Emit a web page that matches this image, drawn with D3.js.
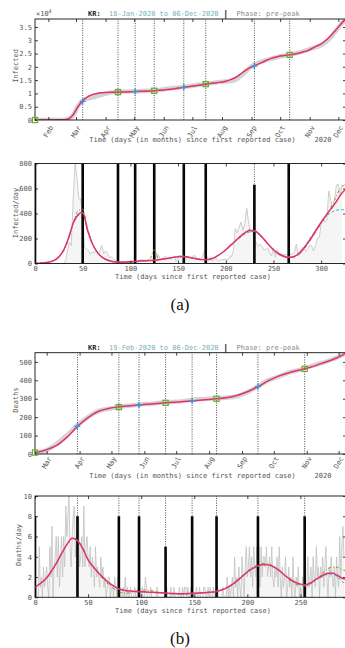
<!DOCTYPE html>
<html>
<head>
<meta charset="utf-8">
<script src="https://cdn.jsdelivr.net/npm/d3@7"></script>
<style>
  body { margin: 0; background: #fff; }
  svg { display: block; }
</style>
</head>
<body>
<svg id="fig" width="345" height="648"></svg>
<script>
// ---------- (a) infections, day 0 = 18-Jan-2020 ----------
const infStart = new Date(2020, 0, 18);
const infFitDays = d3.range(0, 321, 5).concat([325]);
const infCumFit = [0, 2, 5, 10, 20, 50, 120, 400, 2000, 5000, 7200, 8700, 9500, 10000, 10250, 10350,
  10420, 10480, 10530, 10580, 10640, 10700, 10780, 10850, 10930, 11020, 11150, 11300, 11500, 11700,
  12000, 12250, 12500, 12750, 13000, 13300, 13550, 13800, 14000, 14250, 14600, 15200, 16000, 17200,
  18500, 19600, 20400, 21200, 22000, 22800, 23400, 23900, 24200, 24450, 24700, 25000, 25500, 26000,
  26800, 27800, 28600, 30000, 31700, 33700, 35800, 37800];
const infCumRaw = [1, 2, 4, 15, 24, 28, 30, 433, 1766, 5186, 7313, 7979, 8413, 8961, 9478, 9976,
  10331, 10512, 10635, 10694, 10738, 10780, 10810, 10936, 11050, 11142, 11265, 11541, 11776, 12003,
  12155, 12373, 12602, 12904, 13137, 13373, 13612, 13879, 14150, 14305, 14456, 14626, 15039, 16346,
  17945, 19699, 20842, 21588, 22285, 22783, 23341, 23699, 24164, 24476, 24805, 25199, 25698, 26271,
  26925, 27427, 28133, 29311, 31004, 33375, 35703, 37546];
const infDailyFit = [1, 3, 6, 12, 25, 53, 107, 200, 322, 390, 410, 268, 160, 93, 53, 30, 18, 12, 11, 12,
  14, 17, 20, 22, 24, 26, 30, 36, 42, 49, 55, 57, 52, 44, 36, 31, 30, 38, 55, 80,
  110, 145, 180, 215, 245, 265, 262, 235, 195, 150, 110, 80, 60, 50, 52, 70, 105, 155, 210, 270,
  330, 385, 435, 485, 545, 590];
const infDailyCyan = [1, 3, 6, 12, 25, 52, 105, 195, 315, 380, 400, 270, 165, 95, 55, 32, 19, 13, 11, 12,
  14, 17, 20, 22, 24, 27, 31, 37, 43, 48, 51, 53, 50, 43, 36, 31, 31, 39, 56, 80,
  108, 142, 175, 208, 237, 252, 255, 232, 194, 150, 112, 82, 62, 52, 54, 73, 110, 162, 218, 275,
  330, 375, 405, 425, 430, 430];
const infDailyOlive = [1, 3, 6, 12, 24, 50, 100, 190, 320, 420, 435, 285, 165, 90, 50, 28, 16, 10, 9, 10,
  13, 16, 19, 22, 30, 110, 32, 36, 42, 50, 58, 60, 54, 45, 37, 32, 31, 38, 54, 78,
  110, 146, 182, 218, 250, 270, 268, 238, 196, 148, 106, 76, 56, 46, 48, 64, 96, 145, 200, 262,
  318, 375, 445, 525, 600, 630];
const infRawDays = d3.range(0, 323, 2);
const infDailyRaw = [1, 0, 0, 0, 1, 0, 3, 2, 1, 0, 1, 0, 0, 0, 0, 1,
  20, 100, 170, 144, 505, 813, 686, 516, 518, 367, 131, 114, 107, 74, 93, 87, 98, 76, 104, 146,
  78, 101, 81, 47, 53, 39, 27, 25, 18, 8, 11, 14, 10, 9, 6, 10, 4, 3, 2, 34,
  27, 29, 15, 19, 20, 23, 16, 40, 79, 58, 27, 38, 57, 49, 37, 34, 48, 59, 17, 48,
  46, 51, 62, 42, 28, 42, 50, 63, 61, 35, 44, 39, 60, 113, 58, 28, 48, 18, 36, 43,
  20, 28, 31, 30, 34, 28, 54, 56, 103, 279, 246, 288, 332, 266, 320, 441, 323, 248, 267, 198,
  167, 136, 155, 136, 109, 113, 126, 82, 61, 125, 50, 114, 77, 75, 73, 69, 72, 98, 73, 76,
  89, 155, 61, 88, 125, 127, 97, 118, 145, 143, 100, 143, 202, 208, 313, 363, 330, 349, 581, 504,
  438, 511, 629, 631, 540, 631];
const infChangeDays = [50, 87, 105, 125, 156, 179, 230, 267];
const infStemDays = [0, 50, 87, 105, 125, 156, 179, 230, 266];
const infStemTop = [800, 800, 800, 800, 800, 800, 800, 630, 800];
const infSquareDays = [0, 87, 125, 179, 267];
const infSquareVals = [0, 10500, 11000, 13500, 24500];
const infCrossDays = [50, 105, 156, 230];
const infCrossVals = [7000, 10700, 12300, 20300];

// ---------- (b) deaths, day 0 = 19-Feb-2020 ----------
const dthStart = new Date(2020, 1, 19);
const dthCumDays = d3.range(0, 291, 10).concat([292]);
const dthCumFit = [8, 22, 45, 90, 150, 198, 232, 248, 256, 262, 267, 272, 277, 281, 285, 289, 294, 300,
  306, 318, 338, 366, 398, 424, 443, 457, 472, 492, 512, 538, 545];
const dthCumRaw = [2, 17, 54, 102, 158, 200, 234, 246, 256, 263, 269, 273, 280, 282, 287, 296, 299, 302,
  306, 313, 336, 367, 401, 421, 444, 458, 477, 494, 513, 540, 549];
const dthFitDays = d3.range(0, 291, 5).concat([292]);
const dthDailyFit = [1.0, 1.35, 1.8, 2.5, 3.35, 4.3, 5.2, 5.82, 5.6, 4.8, 3.7, 3.0, 2.4, 1.85, 1.4, 1.05,
  0.8, 0.68, 0.62, 0.58, 0.55, 0.52, 0.5, 0.47, 0.44, 0.4, 0.37, 0.35, 0.35, 0.37, 0.4, 0.43, 0.46,
  0.5, 0.55, 0.7, 0.9, 1.2, 1.6, 2.05, 2.5, 2.85, 3.1, 3.25, 3.2, 3.0, 2.65, 2.2, 1.8, 1.5, 1.3,
  1.25, 1.45, 1.8, 2.1, 2.35, 2.4, 2.15, 1.85, 1.78];
const dthDailyCyan = [1.0, 1.35, 1.8, 2.5, 3.35, 4.3, 5.2, 5.8, 5.6, 4.8, 3.7, 3.0, 2.4, 1.85, 1.4, 1.0,
  0.75, 0.65, 0.6, 0.56, 0.54, 0.5, 0.47, 0.44, 0.4, 0.36, 0.33, 0.31, 0.3, 0.32, 0.35, 0.4, 0.45,
  0.5, 0.55, 0.7, 0.9, 1.2, 1.6, 2.0, 2.45, 2.8, 3.05, 3.2, 3.15, 2.95, 2.6, 2.15, 1.75, 1.45, 1.25,
  1.2, 1.4, 1.75, 2.0, 2.25, 2.3, 2.0, 1.5, 1.38];
const dthDailyOlive = [1.0, 1.35, 1.8, 2.5, 3.35, 4.3, 5.2, 5.85, 5.65, 4.85, 3.7, 2.95, 2.3, 1.7, 1.2, 0.8,
  0.5, 0.4, 0.45, 0.6, 0.7, 0.72, 0.65, 0.5, 0.42, 0.38, 0.36, 0.35, 0.36, 0.38, 0.42, 0.45, 0.48,
  0.52, 0.57, 0.72, 0.92, 1.25, 1.65, 2.1, 2.6, 2.95, 3.2, 3.35, 3.3, 3.05, 2.65, 2.15, 1.7, 1.35,
  1.15, 1.1, 1.35, 1.75, 2.3, 2.75, 3.0, 2.95, 2.7, 2.64];
const dthDailyRaw = [0, 1, 0, 0, 5, 1, 2, 0, 3, 1, 2, 3, 1, 0, 5, 2, 7, 0, 3, 4,
  6, 2, 6, 1, 3, 6, 2, 6, 3, 9, 6, 8, 10, 5, 3, 6, 8, 9, 4, 6,
  5, 8, 3, 4, 6, 3, 9, 3, 5, 6, 4, 3, 5, 2, 4, 3, 1, 5, 2, 3,
  2, 1, 4, 2, 3, 1, 2, 0, 1, 2, 2, 0, 1, 1, 0, 2, 1, 0, 2, 1,
  1, 0, 0, 1, 0, 2, 0, 1, 0, 0, 1, 0, 0, 0, 1, 0, 0, 1, 0, 0,
  0, 1, 0, 0, 2, 1, 0, 0, 0, 1, 0, 0, 0, 0, 0, 1, 0, 0, 0, 0,
  0, 0, 0, 0, 1, 0, 0, 0, 1, 0, 0, 1, 0, 0, 0, 0, 1, 0, 0, 1,
  0, 1, 1, 0, 1, 0, 0, 1, 0, 0, 0, 0, 1, 0, 0, 1, 0, 0, 0, 1,
  1, 0, 0, 1, 0, 1, 0, 0, 1, 0, 0, 0, 1, 0, 0, 0, 0, 1, 0, 0,
  0, 2, 0, 1, 0, 1, 2, 0, 4, 1, 2, 0, 3, 1, 0, 4, 2, 0, 3, 5,
  2, 3, 5, 2, 4, 1, 5, 3, 2, 5, 3, 5, 1, 5, 2, 4, 4, 3, 5, 2,
  3, 4, 2, 5, 2, 1, 3, 2, 4, 1, 5, 2, 0, 3, 1, 2, 4, 0, 1, 3,
  1, 2, 0, 4, 1, 0, 2, 1, 3, 0, 1, 0, 2, 1, 3, 0, 1, 4, 1, 2,
  3, 0, 4, 2, 1, 5, 2, 3, 0, 3, 2, 4, 1, 3, 5, 2, 0, 3, 2, 4,
  2, 1, 3, 0, 4, 2, 1, 6, 2, 5, 7, 4];
const dthChangeDays = [40, 79, 98, 123, 148, 171, 210, 254];
const dthStemDays = [0, 40, 79, 98, 123, 148, 171, 210, 254];
const dthStemTop = [8, 8, 8, 8, 5, 8, 8, 8, 8];
const dthSquareDays = [0, 79, 123, 171, 254];
const dthSquareVals = [8, 255, 278, 300, 462];
const dthCrossDays = [40, 98, 148, 210];
const dthCrossVals = [150, 266, 288, 366];

// ---------- styling ----------
const MONO = 'DejaVu Sans Mono, monospace';
const C = {
  pink: '#e6306c', cyan: '#35b6c8', olive: '#8f8d22', raw: '#c2c2c2', band: '#cdcdcd',
  fill: '#f5f5f5', green: '#64ad2c', blue: '#2e9edb', tick: '#555', date: '#76b3b5'
};
const L = 35, R = 345;
const svg = d3.select('#fig');
let clipId = 0;

function panel(o) {
  const x = d3.scaleLinear().domain(o.xDomain).range([L, R]);
  const y = d3.scaleLinear().domain(o.yDomain).range([o.bottom, o.top]);
  const g = svg.append('g');
  const id = 'clip' + (clipId++);
  g.append('clipPath').attr('id', id).append('rect')
    .attr('x', L).attr('y', o.top).attr('width', R + 2 - L).attr('height', o.bottom - o.top);
  const plot = g.append('g').attr('clip-path', 'url(#' + id + ')');
  return { x, y, g, plot, o };
}

function axes(p, xTicks, xFmt, yTicks, yFmt) {
  const o = p.o;
  const ax = p.g.append('g');
  ax.append('g').attr('transform', 'translate(' + L + ',0)')
    .call(d3.axisLeft(p.y).tickValues(yTicks).tickSize(-3).tickPadding(3).tickFormat(yFmt));
  ax.append('g').attr('transform', 'translate(' + (R + 1) + ',0)')
    .call(d3.axisRight(p.y).tickValues(yTicks).tickSize(-3).tickFormat(''));
  const bottom = ax.append('g').attr('class', 'xb').attr('transform', 'translate(0,' + o.bottom + ')')
    .call(d3.axisBottom(p.x).tickValues(xTicks).tickSize(-3).tickPadding(3).tickFormat(xFmt));
  ax.append('g').attr('transform', 'translate(0,' + o.top + ')')
    .call(d3.axisTop(p.x).tickValues(xTicks).tickSize(-3).tickFormat(''));
  ax.selectAll('.domain').remove();
  ax.selectAll('.tick line').attr('stroke', '#111').attr('stroke-width', 0.8);
  ax.selectAll('text').attr('font-family', MONO).attr('font-size', 7).attr('fill', C.tick);
  // frame: left, top, bottom (right side falls just off the picture)
  p.g.append('rect').attr('x', L).attr('y', o.top).attr('width', R + 1 - L).attr('height', o.bottom - o.top)
    .attr('fill', 'none').attr('stroke', '#111').attr('stroke-width', 0.9);
  return bottom;
}

function monthLabels(bottom, dy) {
  bottom.selectAll('.tick text')
    .attr('y', 0).attr('dy', '0.35em').attr('text-anchor', 'middle')
    .attr('transform', 'translate(-0.5,' + dy + ') rotate(-60)');
}

function monthTicks(start, endDay) {
  const end = d3.timeDay.offset(start, endDay);
  return d3.timeMonth.range(d3.timeMonth.ceil(start), end).map(m => d3.timeDay.count(start, m));
}

function label(text, x, y, opts) {
  const t = svg.append('text').attr('x', x).attr('y', y).text(text)
    .attr('font-family', (opts && opts.family) || MONO)
    .attr('font-size', (opts && opts.size) || 7)
    .attr('fill', (opts && opts.fill) || C.tick);
  if (opts && opts.anchor) t.attr('text-anchor', opts.anchor);
  if (opts && opts.rotate) t.attr('transform', 'rotate(-90,' + x + ',' + y + ')');
  if (opts && opts.weight) t.attr('font-weight', opts.weight);
  return t;
}

function title(y, dates) {
  label('KR:', 88, y, { fill: '#222', weight: 'bold' });
  label(dates, 109, y, { fill: C.date });
  label('|', 223, y + 1, { fill: '#222', size: 9, weight: 'bold' });
  label('Phase: pre-peak', 236.5, y, { fill: '#8a8a8a' });
}

function vlines(p, days) {
  p.plot.selectAll(null).data(days).join('line')
    .attr('x1', d => p.x(d)).attr('x2', d => p.x(d))
    .attr('y1', p.o.bottom).attr('y2', p.o.top)
    .attr('stroke', '#222').attr('stroke-width', 0.8).attr('stroke-dasharray', '1,1.4');
}

function stems(p, days, tops) {
  p.plot.selectAll(null).data(days).join('line')
    .attr('x1', d => p.x(d)).attr('x2', d => p.x(d))
    .attr('y1', p.o.bottom).attr('y2', (d, i) => p.y(tops[i]))
    .attr('stroke', '#000').attr('stroke-width', 2.6);
}

function curve(p, days, vals, color, width, dash, smooth) {
  const line = d3.line().x((d, i) => p.x(days[i])).y(d => p.y(d))
    .curve(smooth ? d3.curveMonotoneX : d3.curveLinear);
  const path = p.plot.append('path').datum(vals).attr('d', line)
    .attr('fill', 'none').attr('stroke', color).attr('stroke-width', width)
    .attr('stroke-linejoin', 'round');
  if (dash) path.attr('stroke-dasharray', dash);
  return path;
}

function area(p, days, vals) {
  const a = d3.area().x((d, i) => p.x(days[i])).y0(p.o.bottom).y1(d => p.y(d));
  p.plot.append('path').datum(vals).attr('d', a).attr('fill', C.fill);
}

function markers(p, sqDays, sqVals, crDays, crVals) {
  p.g.selectAll(null).data(sqDays).join('rect')
    .attr('x', d => p.x(d) - 2.6).attr('y', (d, i) => p.y(sqVals[i]) - 2.6)
    .attr('width', 5.2).attr('height', 5.2)
    .attr('fill', 'none').attr('stroke', C.green).attr('stroke-width', 1.2);
  p.g.selectAll(null).data(crDays).join('path')
    .attr('transform', (d, i) => 'translate(' + p.x(d) + ',' + p.y(crVals[i]) + ')')
    .attr('d', 'M-3,0H3M0,-3V3')
    .attr('stroke', C.blue).attr('stroke-width', 1.3);
}

// ===== panel 1: cumulative infections =====
const p1 = panel({ top: 19, bottom: 120, xDomain: [0, 325], yDomain: [0, 38000] });
curve(p1, infFitDays, infCumRaw, C.band, 4.5, null, true).attr('opacity', 0.85);
vlines(p1, infChangeDays);
curve(p1, infFitDays, infCumFit, C.olive, 1, '3,2,1,2', true);
curve(p1, infFitDays, infCumFit, C.pink, 1.5, null, true);
const b1 = axes(p1, monthTicks(infStart, 325), d => d3.timeFormat('%b')(d3.timeDay.offset(infStart, d)),
  d3.range(0, 35001, 5000), d => d3.format('~g')(d / 1e4));
monthLabels(b1, 11.5);
markers(p1, infSquareDays, infSquareVals, infCrossDays, infCrossVals);
title(16, '18-Jan-2020 to 06-Dec-2020');
label('\u00d710', 36, 16);
label('4', 48.5, 12.5, { size: 5 });
label('Infected', 18, 66, { rotate: true, anchor: 'middle' });
label('Time (days (in months) since first reported case)', 192.5, 142, { anchor: 'middle' });
label('2020', 314.5, 142);

// ===== panel 2: infections per day =====
const p2 = panel({ top: 163.5, bottom: 263.5, xDomain: [0, 325], yDomain: [0, 800] });
area(p2, infRawDays, infDailyRaw);
curve(p2, infRawDays, infDailyRaw, C.raw, 0.8, null, false);
stems(p2, infStemDays, infStemTop);
vlines(p2, infStemDays);
curve(p2, infFitDays, infDailyOlive, C.olive, 1, '3,2,1,2', true);
curve(p2, infFitDays, infDailyCyan, C.cyan, 1, '3,2', true);
curve(p2, infFitDays, infDailyFit, C.pink, 1.5, null, true);
axes(p2, d3.range(0, 301, 50), d3.format('d'), d3.range(0, 801, 200), d3.format('d'));
label('Infected/day', 18, 213, { rotate: true, anchor: 'middle' });
label('Time (days since first reported case)', 193, 278.5, { anchor: 'middle' });
label('(a)', 180, 309.5, { family: 'Liberation Serif, serif', size: 17, fill: '#111', anchor: 'middle' });

// ===== panel 3: cumulative deaths =====
const p3 = panel({ top: 352.7, bottom: 454, xDomain: [0, 292], yDomain: [0, 550] });
curve(p3, dthCumDays, dthCumRaw, C.band, 4.5, null, true).attr('opacity', 0.85);
vlines(p3, dthChangeDays);
curve(p3, dthCumDays, dthCumFit, C.pink, 1.5, null, true);
const b3 = axes(p3, monthTicks(dthStart, 292), d => d3.timeFormat('%b')(d3.timeDay.offset(dthStart, d)),
  d3.range(0, 501, 100), d3.format('d'));
monthLabels(b3, 8.5);
markers(p3, dthSquareDays, dthSquareVals, dthCrossDays, dthCrossVals);
title(350, '19-Feb-2020 to 06-Dec-2020');
label('Deaths', 18, 400, { rotate: true, anchor: 'middle' });
label('Time (days (in months) since first reported case)', 192.5, 477.5, { anchor: 'middle' });
label('2020', 314.5, 477.5);

// ===== panel 4: deaths per day =====
const p4 = panel({ top: 496, bottom: 597.3, xDomain: [0, 292], yDomain: [0, 10] });
const dthRawDays = d3.range(0, dthDailyRaw.length);
area(p4, dthRawDays, dthDailyRaw);
curve(p4, dthRawDays, dthDailyRaw, C.raw, 0.8, null, false);
stems(p4, dthStemDays, dthStemTop);
vlines(p4, dthStemDays);
curve(p4, dthFitDays, dthDailyOlive, C.olive, 1, '3,2,1,2', true);
curve(p4, dthFitDays, dthDailyCyan, C.cyan, 1, '3,2', true);
curve(p4, dthFitDays, dthDailyFit, C.pink, 1.5, null, true);
axes(p4, d3.range(0, 251, 50), d3.format('d'), d3.range(0, 11, 2), d3.format('d'));
label('Deaths/day', 21, 545, { rotate: true, anchor: 'middle' });
label('Time (days since first reported case)', 193, 613, { anchor: 'middle' });
label('(b)', 180, 644, { family: 'Liberation Serif, serif', size: 17, fill: '#111', anchor: 'middle' });
</script>
</body>
</html>
